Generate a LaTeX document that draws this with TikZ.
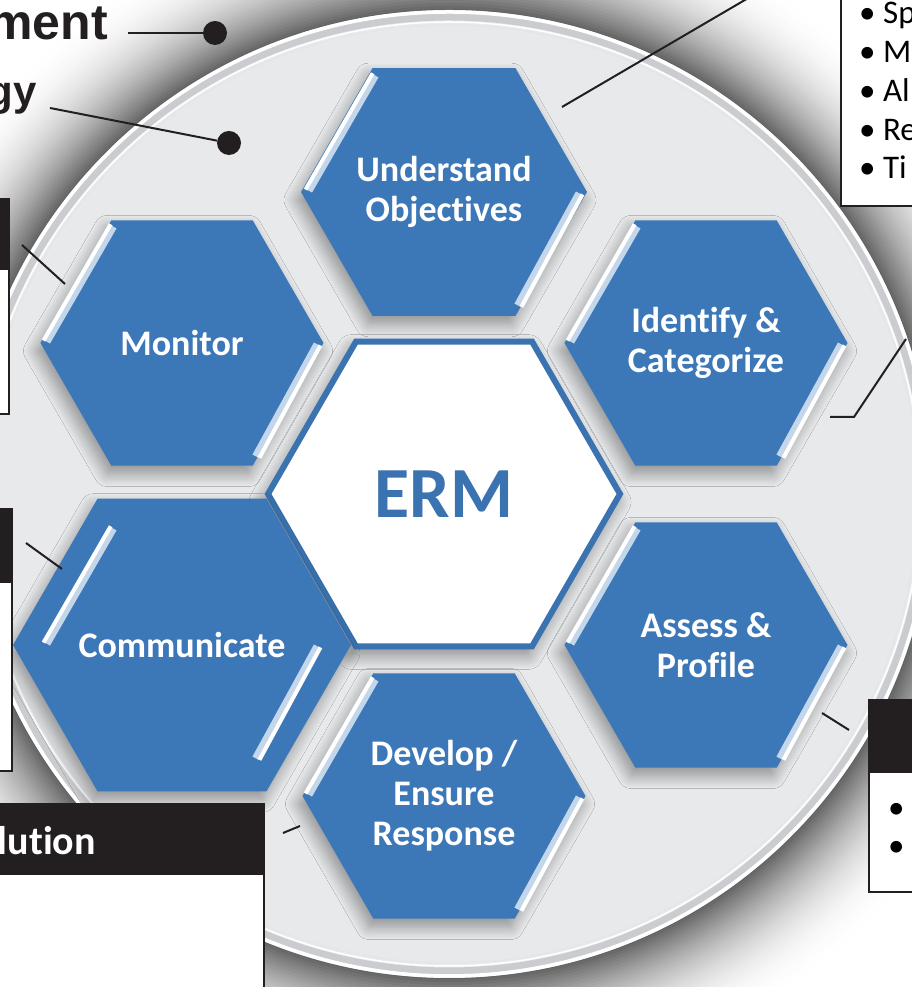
\documentclass[tikz,border=0pt]{standalone}
\usepackage{fontspec}
\setmainfont{Carlito}[Ligatures={NoCommon,NoContextual}]
\newfontfamily\arialfont{Liberation Sans}
\usetikzlibrary{shapes.geometric,calc,shadows.blur}
\definecolor{hexblue}{HTML}{3C78B8}
\definecolor{ermblue}{HTML}{3A73B0}
\definecolor{diskgray}{HTML}{E7E9EB}
\definecolor{headblack}{HTML}{231F20}
\definecolor{rimgray}{HTML}{CACCCF}

\begin{document}
\begin{tikzpicture}[x=1pt,y=1pt]
\tikzset{
  stephex/.style={regular polygon, regular polygon sides=6, minimum size=283pt,
    inner sep=0pt, fill=hexblue, text=white, align=center,
    font=\fontsize{36}{40}\selectfont\bfseries,
    blur shadow={shadow xshift=-4pt, shadow yshift=-8pt, shadow blur radius=13pt,
      shadow blur steps=14, shadow opacity=40}},
  ermhex/.style={regular polygon, regular polygon sides=6, minimum size=352pt,
    inner sep=0pt, fill=white, draw=ermblue, line width=6pt, text=ermblue,
    font=\fontsize{72}{72}\selectfont\bfseries,
    blur shadow={shadow xshift=-4pt, shadow yshift=-8pt, shadow blur radius=15pt,
      shadow blur steps=14, shadow opacity=45}},
  bevelglow/.style={line width=7pt, color=hexblue!30!white, line cap=butt},
  bevelcore/.style={line width=4pt, color=white, line cap=butt},
  calbox/.style={draw=headblack, line width=2pt, fill=white, inner sep=0pt},
  headbar/.style={fill=headblack, inner sep=0pt},
  leader/.style={draw=headblack, line width=2pt},
  dotmark/.style={circle, fill=headblack, inner sep=0pt, minimum size=24pt},
  listtext/.style={inner sep=0pt, font=\fontsize{33}{33}\selectfont, text=black},
  headtext/.style={inner sep=0pt, font=\fontsize{40}{40}\selectfont\bfseries, text=white},
  sidetext/.style={inner sep=0pt, text=headblack}
}
\useasboundingbox (0,0) rectangle (912,987);
\clip (0,0) rectangle (912,987);
\fill[white] (0,0) rectangle (912,987);

% soft shadow around the disk
\coordinate (disk) at (449,493);
\foreach \k in {0,...,40}{
  \pgfmathsetmacro\glowpct{62*(\k/40)^2.2}
  \fill[black!\glowpct] (disk) circle[radius=605-3*\k];
}

% disk with bevelled rim
\fill[diskgray] (disk) circle[radius=484];
\draw[rimgray, line width=7pt] (disk) circle[radius=477];
\draw[white, line width=3.5pt] (disk) circle[radius=482];
\draw[white, line width=1.5pt] (disk) circle[radius=472];
\draw[black!10, line width=1pt] (disk) circle[radius=469];

% callout leaders crossing the disk
\coordinate (tr0) at (562,880);
\coordinate (tr1) at (762,997);
\draw[leader] (tr0) -- (tr1);
\coordinate (ri0) at (830,570);
\coordinate (ri1) at (854,570);
\coordinate (ri2) at (906,648);
\draw[leader] (ri0) -- (ri1) -- (ri2);

% process hexagons
\node[ermhex] (E) at (444,493) {ERM};
\node[stephex] (U) at (444,795) {Understand\\Objectives};
\node[stephex] (I) at (706,644) {Identify \&\\Categorize};
\node[stephex] (A) at (706,342) {Assess \&\\Profile};
\node[stephex] (D) at (444,191) {Develop /\\Ensure\\Response};
\node[stephex] (C) at (182,342) {Communicate};
\node[stephex] (M) at (182,644) {Monitor};

% bevel highlights on upper-left and lower-right edges
\foreach \n in {U,I,A,D,C,M}{
  \draw[bevelglow] ($(\n.center)+(179.5:135)$) -- ($(\n.center)+(120.5:135)$);
  \draw[bevelglow] ($(\n.center)+(-0.5:135)$) -- ($(\n.center)+(-57:135)$);
  \draw[bevelcore] ($(\n.center)+(179:138.5)$) -- ($(\n.center)+(121:138.5)$);
  \draw[bevelcore] ($(\n.center)+(-1:138.5)$) -- ($(\n.center)+(-56:138.5)$);
}

% top right list box
\node[calbox, minimum width=100pt, minimum height=230pt, anchor=south west] (TR) at (840,780) {};
\foreach \t/\yy [count=\i] in {Sp/963, M/924, Al/885, Re/846, Ti/808}{
  \node[listtext, anchor=base west] (trl\i) at (859,\yy) {\textbullet\ \t};
}

% left upper box
\node[calbox, minimum width=30pt, minimum height=215pt, anchor=south west] (LU) at (-22,572) {};
\node[headbar, minimum width=30pt, minimum height=70pt, anchor=north west] (LUh) at (-22,787) {};
\coordinate (lu0) at (22,742);
\coordinate (lu1) at (65,703);
\draw[leader] (lu0) -- (lu1);

% left lower box
\node[calbox, minimum width=33pt, minimum height=262pt, anchor=south west] (LL) at (-22,215) {};
\node[headbar, minimum width=33pt, minimum height=73pt, anchor=north west] (LLh) at (-22,477) {};
\coordinate (ll0) at (26,444);
\coordinate (ll1) at (62,418);
\draw[leader] (ll0) -- (ll1);

% bottom left box
\node[calbox, minimum width=285pt, minimum height=210pt, anchor=north west] (BL) at (-22,184) {};
\node[headbar, minimum width=285pt, minimum height=72pt, anchor=north west] (BLh) at (-22,184) {};
\node[headtext, anchor=base east] (BLt) at (96,132) {lution};
\coordinate (bl0) at (283,154);
\coordinate (bl1) at (300,161);
\draw[leader] (bl0) -- (bl1);

% bottom right box
\node[calbox, minimum width=70pt, minimum height=192pt, anchor=south west] (BR) at (868,94) {};
\node[headbar, minimum width=70pt, minimum height=72pt, anchor=north west] (BRh) at (868,286) {};
\node[listtext, anchor=base west] (brl1) at (888,168) {\textbullet};
\node[listtext, anchor=base west] (brl2) at (888,130) {\textbullet};
\coordinate (br0) at (822,274);
\coordinate (br1) at (849,257);
\draw[leader] (br0) -- (br1);

% upper left labels with dot leaders
\node[sidetext, font=\arialfont\bfseries\fontsize{50}{50}\selectfont, anchor=base east] (lab1) at (108,947) {ment};
\coordinate (m0) at (128,954);
\node[dotmark] (m1) at (215,954) {};
\draw[leader] (m0) -- (m1);
\node[sidetext, font=\arialfont\bfseries\fontsize{42}{42}\selectfont, anchor=base east] (lab2) at (37,881) {gy};
\coordinate (g0) at (50,879);
\node[dotmark] (g1) at (229,844) {};
\draw[leader] (g0) -- (g1);
\end{tikzpicture}
\end{document}
